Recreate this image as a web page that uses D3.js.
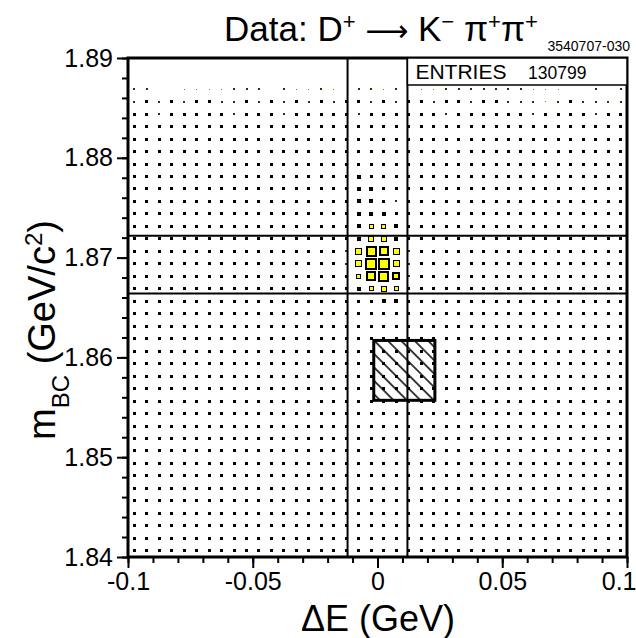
<!DOCTYPE html>
<html>
<head>
<meta charset="utf-8">
<script src="https://cdn.jsdelivr.net/npm/d3@7"></script>
<style>
  body { margin: 0; background: #fff; }
  svg { display: block; }
  text { font-family: "Liberation Sans", Arial, Helvetica, sans-serif; fill: #000; }
</style>
</head>
<body>
<svg id="chart" width="636" height="638"></svg>
<script>
// Axis ranges and binning of the 2D histogram (Delta E vs beam-constrained mass)
const dERange = [-0.1, 0.1];
const mbcRange = [1.84, 1.89];
const nBinsDE = 40;
const nBinsMbc = 40;

// Tick values and labels
const xTicks = [-0.1, -0.05, 0, 0.05, 0.1];
const xTickLabels = ["-0.1", "-0.05", "0", "0.05", "0.1"];
const yTicks = [1.84, 1.85, 1.86, 1.87, 1.88, 1.89];
const yTickLabels = ["1.84", "1.85", "1.86", "1.87", "1.88", "1.89"];
const xMinorStep = 0.01;
const yMinorStep = 0.002;

// Cell contents by class (hex digit in the cell map -> entries in the cell)
const levelCounts = [0, 40, 130, 242, 348, 520, 727, 968, 1317, 1807, 2477, 3252, 4000];

// Cell map: one string per mBC bin (first = highest mBC), one character per Delta E bin
const cellRows = [
  "0000000000000000000000000000000000000000",
  "0000000000000000000000000000000000000000",
  "2200111122202112102212011222222211100202",
  "2323233223232323233232332332332221232222",
  "3323333323332333332333333233333323333233",
  "3333333333333333333333333333333333333333",
  "3333333333333333333333333333333333333333",
  "3333333333333333333333333333333333333333",
  "3333333333333333333333333333333333333333",
  "3333333333333333334333333333333333333333",
  "3333333333333333334433333333333333333333",
  "3333333333333333335532333333333333333333",
  "3333333333333333335543333333333333333333",
  "3333333333333333335664333333333333333333",
  "3333333333333333335774333333333333333333",
  "3333333333333333328BA8233333333333333333",
  "3333333333333333328CC8233333333333333333",
  "3333333333333333336AB9233333333333333333",
  "3333333333333333334676333333333333333333",
  "3333333333333333333345333333333333333333",
  "3333333333333333333333333333333333333333",
  "3333333333333333333333333333333333333333",
  "3333333333333333333333333333333333333333",
  "3333333333333333333333333333333333333333",
  "3333333333333333333333333333333333333333",
  "3333333333333333333333333333333333333333",
  "3333333333333333333333333333333333333333",
  "3333333333333333333333333333333333333333",
  "3333333333333333333333333333333333333333",
  "3333333333333333333333333333333333333333",
  "3333333333333333333333333333333333333333",
  "3333333333333333333333333333333333333333",
  "3333333333333333333333333333333333333333",
  "3333333333333333333333333333333333333333",
  "3333333333333333333333333333333333333333",
  "3333333333333333333333333333333333333333",
  "3333333333333333333333333333333333333333",
  "3333333333333333333333333333333333333333",
  "3333333333333333333333333333333333333333",
  "3333333333333333333333333333333333333333"
];

// Signal region cuts and the hatched sideband region
const signalCutsDE = [-0.012, 0.012];
const signalCutsMbc = [1.8664, 1.8722];
const sidebandDE = [-0.0015, 0.023];
const sidebandMbc = [1.8557, 1.8617];
const entries = 130799;

const svg = d3.select("#chart");
const L = 128, R = 627, T = 58, B = 557;

const x = d3.scaleLinear().domain(dERange).range([L, R]);
const y = d3.scaleLinear().domain(mbcRange).range([B, T]);

const dEStep = (dERange[1] - dERange[0]) / nBinsDE;
const mStep = (mbcRange[1] - mbcRange[0]) / nBinsMbc;
const side = d3.scaleSqrt().domain([0, d3.max(levelCounts)]).range([0, 12.2]);

// Flatten the cell map into histogram cells
const cells = [];
cellRows.forEach((row, r) => {
  [...row].forEach((ch, c) => {
    const n = levelCounts[parseInt(ch, 16)];
    if (n > 0) {
      cells.push({
        dE: dERange[0] + (c + 0.5) * dEStep,
        mbc: mbcRange[1] - (r + 0.5) * mStep,
        n
      });
    }
  });
});

// Boxes: outlined yellow squares whose side grows with the cell content
const tint = d3.interpolateRgb("#000", "#ffff00");
const cellG = svg.append("g").attr("class", "cells").attr("shape-rendering", "crispEdges");
cells.forEach(d => {
  const S = Math.max(1, Math.round(side(d.n)));
  const x0 = Math.round(x(d.dE) - S / 2);
  const y0 = Math.round(y(d.mbc) - S / 2);
  if (S <= 2) {
    cellG.append("rect").attr("x", x0).attr("y", y0).attr("width", S).attr("height", S)
      .attr("fill", tint(S === 1 ? 0.5 : 0.2));
    return;
  }
  cellG.append("rect").attr("x", x0).attr("y", y0).attr("width", S).attr("height", S)
    .attr("fill", "#000");
  const b = S >= 8 ? 2 : (S >= 5 ? 1 : 0);
  if (b > 0) {
    cellG.append("rect").attr("x", x0 + b).attr("y", y0 + b)
      .attr("width", S - 2 * b).attr("height", S - 2 * b).attr("fill", "#ffff00");
  }
});

// Signal-region cut lines
const cuts = svg.append("g").attr("class", "cuts");
cuts.selectAll("line.v").data(signalCutsDE).join("line")
  .attr("class", "v")
  .attr("x1", d => x(d)).attr("x2", d => x(d))
  .attr("y1", T).attr("y2", B)
  .attr("stroke", "#000").attr("stroke-width", 2);
cuts.selectAll("line.h").data(signalCutsMbc).join("line")
  .attr("class", "h")
  .attr("x1", L).attr("x2", R)
  .attr("y1", d => y(d)).attr("y2", d => y(d))
  .attr("stroke", "#000").attr("stroke-width", 2);

// Hatched sideband box
const defs = svg.append("defs");
const hs = 9.5;
defs.append("pattern")
  .attr("id", "hatch")
  .attr("patternUnits", "userSpaceOnUse")
  .attr("width", hs).attr("height", hs)
  .attr("patternTransform", "rotate(-45)")
  .append("line")
  .attr("x1", hs / 2).attr("x2", hs / 2)
  .attr("y1", -1).attr("y2", hs + 1)
  .attr("stroke", "#000").attr("stroke-width", 1.5);

svg.append("rect")
  .attr("x", x(sidebandDE[0]))
  .attr("y", y(sidebandMbc[1]))
  .attr("width", x(sidebandDE[1]) - x(sidebandDE[0]))
  .attr("height", y(sidebandMbc[0]) - y(sidebandMbc[1]))
  .attr("fill", "url(#hatch)")
  .attr("stroke", "#000").attr("stroke-width", 3);

// Axes with major and minor ticks
const xAxis = svg.append("g").attr("transform", `translate(0,${B})`)
  .call(d3.axisBottom(x).tickValues(xTicks).tickFormat((d, i) => xTickLabels[i])
    .tickSize(11).tickPadding(4));
const xMinor = svg.append("g").attr("transform", `translate(0,${B})`)
  .call(d3.axisBottom(x).tickValues(d3.range(-10, 11).map(k => k * xMinorStep))
    .tickSize(6).tickFormat(""));
const yAxis = svg.append("g").attr("transform", `translate(${L},0)`)
  .call(d3.axisLeft(y).tickValues(yTicks).tickFormat((d, i) => yTickLabels[i])
    .tickSize(11).tickPadding(4));
const yMinor = svg.append("g").attr("transform", `translate(${L},0)`)
  .call(d3.axisLeft(y).tickValues(d3.range(0, 26).map(k => mbcRange[0] + k * yMinorStep))
    .tickSize(6).tickFormat(""));

[xAxis, xMinor, yAxis, yMinor].forEach(g => {
  g.select(".domain").remove();
  g.selectAll(".tick line").attr("stroke", "#000").attr("stroke-width", 2);
  g.selectAll(".tick text").attr("font-size", 25).attr("fill", "#000")
    .style("font-family", '"Liberation Sans", Arial, sans-serif');
});
// keep the last x label inside the canvas
xAxis.selectAll(".tick text").filter((d, i) => i === xTicks.length - 1)
  .attr("text-anchor", "end").attr("x", 636 - x(xTicks[xTicks.length - 1]));

// Frame
svg.append("rect")
  .attr("x", L).attr("y", T)
  .attr("width", R - L).attr("height", B - T)
  .attr("fill", "none").attr("stroke", "#000").attr("stroke-width", 3);

// Entries box
svg.append("rect")
  .attr("x", x(signalCutsDE[1])).attr("y", T)
  .attr("width", R - x(signalCutsDE[1])).attr("height", 27)
  .attr("fill", "#fff").attr("stroke", "#000").attr("stroke-width", 1.5);
svg.append("text").attr("x", x(signalCutsDE[1]) + 8).attr("y", 79)
  .attr("font-size", 21).text("ENTRIES");
svg.append("text").attr("x", 528).attr("y", 79)
  .attr("font-size", 17.5).text(String(entries));

// Plot identifier
svg.append("text").attr("x", 630).attr("y", 51).attr("text-anchor", "end")
  .attr("font-size", 14).text("3540707-030");

// Title
const title = svg.append("text").attr("x", 381).attr("y", 41)
  .attr("text-anchor", "middle").attr("font-size", 35);
title.append("tspan").text("Data: D");
title.append("tspan").attr("baseline-shift", "super").attr("font-size", 22).text("+");
title.append("tspan").text(" ");
title.append("tspan").style("font-family", '"DejaVu Sans", sans-serif').attr("font-size", 30).text("\u27f6");
title.append("tspan").text(" K");
title.append("tspan").attr("baseline-shift", "super").attr("font-size", 22).text("\u2212");
title.append("tspan").text(" \u03c0");
title.append("tspan").attr("baseline-shift", "super").attr("font-size", 22).text("+");
title.append("tspan").text("\u03c0");
title.append("tspan").attr("baseline-shift", "super").attr("font-size", 22).text("+");

// X axis title
svg.append("text").attr("x", 378).attr("y", 631)
  .attr("text-anchor", "middle").attr("font-size", 36).text("\u0394E (GeV)");

// Y axis title
const yt = svg.append("text")
  .attr("transform", "translate(55,330) rotate(-90)")
  .attr("text-anchor", "middle").attr("font-size", 38);
yt.append("tspan").text("m");
yt.append("tspan").attr("baseline-shift", "sub").attr("font-size", 24).text("BC");
yt.append("tspan").text(" (GeV/c");
yt.append("tspan").attr("baseline-shift", "super").attr("font-size", 24).text("2");
yt.append("tspan").text(")");
</script>
</body>
</html>
